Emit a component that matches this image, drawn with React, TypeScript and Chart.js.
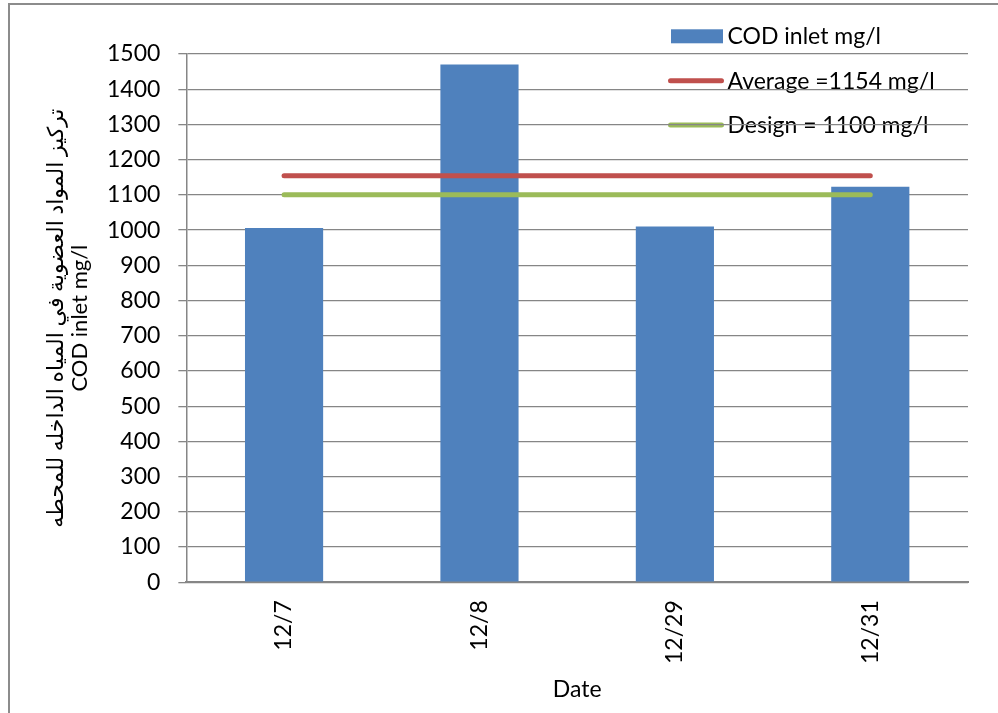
import { useEffect, useRef } from 'react';
import { Chart, registerables } from 'chart.js';

Chart.register(...registerables);

const categories = ['12/7', '12/8', '12/29', '12/31'];
const codInlet = [1006, 1470, 1010, 1123];
const averageLine = [1154, 1154, 1154, 1154];
const designLine = [1100, 1100, 1100, 1100];
const seriesLabels = ['COD inlet mg/l', 'Average =1154 mg/l', 'Design = 1100 mg/l'];
const yTitle = ['تركيز المواد العضوية في المياه الداخله للمحطه', 'COD inlet mg/l'];
const xTitle = 'Date';
const yMin = 0;
const yMax = 1500;
const yStep = 100;

const FONT = "Lato, 'DejaVu Sans', sans-serif";
const GRID = '#868686';
const BLUE = '#4F81BD';
const RED = '#C0504D';
const GREEN = '#9BBB59';

const legendPlugin = {
  id: 'excelLegend',
  beforeDraw(chart: any) {
    const ctx = chart.ctx;
    const rows = [36.3, 80.7, 125];
    ctx.save();
    ctx.font = `23px ${FONT}`;
    ctx.textBaseline = 'alphabetic';
    ctx.textAlign = 'left';
    chart.data.datasets.forEach((ds: any, i: number) => {
      const y = rows[i];
      if (ds.type === 'bar') {
        ctx.fillStyle = ds.backgroundColor;
        ctx.fillRect(671, y - 7, 52, 14);
      } else {
        ctx.strokeStyle = ds.borderColor;
        ctx.lineWidth = 5;
        ctx.lineCap = 'round';
        ctx.beginPath();
        ctx.moveTo(670.5, y);
        ctx.lineTo(721.5, y);
        ctx.stroke();
      }
      ctx.fillStyle = '#000';
      ctx.fillText(ds.label, 727.5, y + 8);
    });
    ctx.restore();
  },
};

export default function App() {
  const ref = useRef<HTMLCanvasElement>(null);

  useEffect(() => {
    const chart = new Chart(ref.current as HTMLCanvasElement, {
      type: 'bar',
      data: {
        labels: categories,
        datasets: [
          {
            type: 'bar',
            label: seriesLabels[0],
            data: codInlet,
            backgroundColor: BLUE,
            borderWidth: 0,
            barPercentage: 0.4,
            categoryPercentage: 1,
            order: 1,
          },
          {
            type: 'line',
            label: seriesLabels[1],
            data: averageLine,
            borderColor: RED,
            backgroundColor: RED,
            borderWidth: 5,
            borderCapStyle: 'round',
            pointRadius: 0,
            fill: false,
            order: 0,
          },
          {
            type: 'line',
            label: seriesLabels[2],
            data: designLine,
            borderColor: GREEN,
            backgroundColor: GREEN,
            borderWidth: 5,
            borderCapStyle: 'round',
            pointRadius: 0,
            fill: false,
            order: 0,
          },
        ] as any,
      },
      options: {
        animation: false,
        responsive: false,
        devicePixelRatio: 1,
        layout: { padding: { left: 39, top: 54, right: 30, bottom: 14 } },
        plugins: {
          legend: { display: false },
          tooltip: { enabled: false },
          title: { display: false },
        },
        scales: {
          x: {
            offset: true,
            grid: { display: false, drawTicks: false, tickLength: 0 },
            border: { display: true, color: GRID, width: 2 },
            ticks: {
              autoSkip: false,
              minRotation: 90,
              maxRotation: 90,
              padding: 18,
              color: '#000',
              font: { family: FONT, size: 23 },
            },
            title: {
              display: true,
              text: xTitle,
              color: '#000',
              font: { family: FONT, size: 23, lineHeight: 18 / 23 },
              padding: { top: -1, bottom: 0 },
            },
          },
          y: {
            min: yMin,
            max: yMax,
            ticks: {
              stepSize: yStep,
              padding: 18,
              color: '#000',
              font: { family: FONT, size: 23 },
              callback: (v: any) => String(v),
            },
            grid: { color: GRID, lineWidth: 1.3, tickLength: 8, drawTicks: true },
            border: { display: true, color: GRID, width: 1.5 },
            title: {
              display: true,
              text: yTitle,
              color: '#000',
              font: { family: FONT, size: 22, lineHeight: 24 / 22 },
              padding: { top: 5, bottom: -3 },
            },
          },
        },
      },
      plugins: [legendPlugin],
    });
    return () => chart.destroy();
  }, []);

  return (
    <div
      style={{
        position: 'fixed',
        left: 0,
        top: 0,
        width: 998,
        height: 713,
        overflow: 'hidden',
        background: '#fff',
      }}
    >
      <div
        style={{
          position: 'absolute',
          left: 8,
          top: 3,
          width: 2000,
          height: 2000,
          borderLeft: '2px solid #8c8c8c',
          borderTop: '2px solid #8c8c8c',
        }}
      />
      <canvas
        ref={ref}
        width={998}
        height={713}
        style={{ position: 'absolute', left: 0, top: 0, width: 998, height: 713 }}
      />
    </div>
  );
}
